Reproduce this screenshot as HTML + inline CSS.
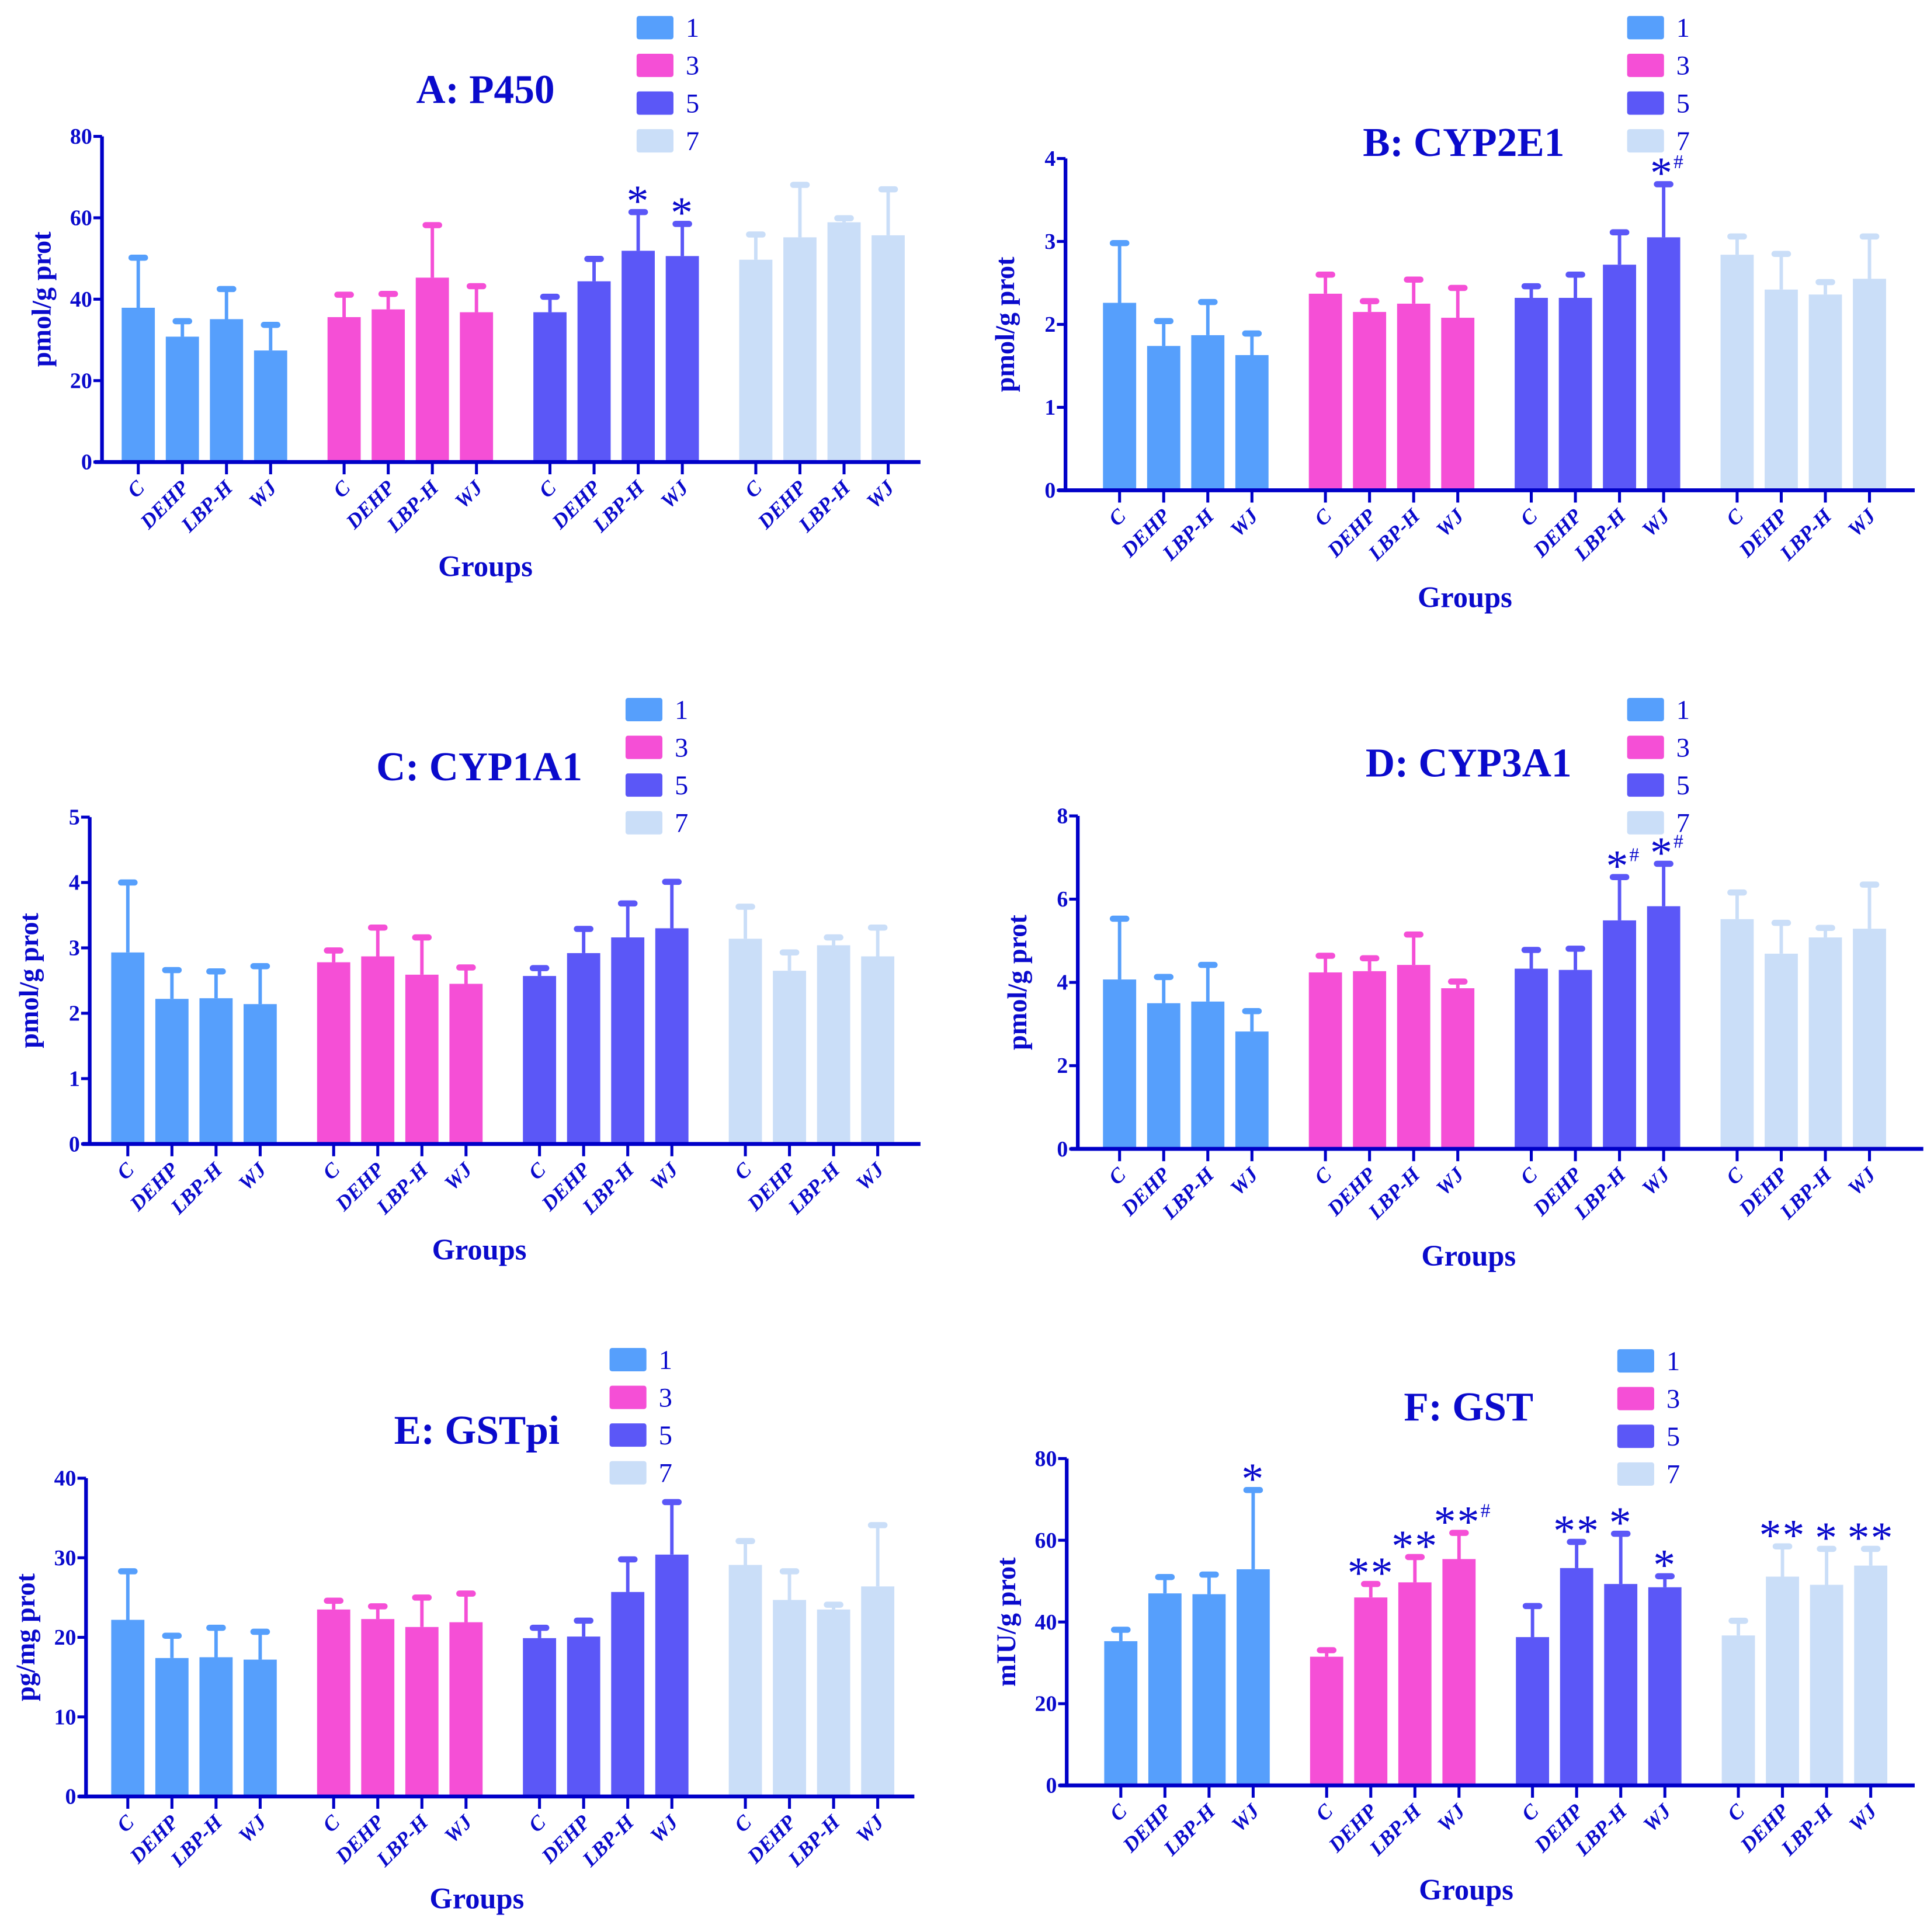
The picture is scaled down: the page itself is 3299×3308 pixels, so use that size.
<!DOCTYPE html>
<html><head><meta charset="utf-8"><style>
html,body{margin:0;padding:0;background:#fff;}
svg{display:block;}
text{font-family:"Liberation Serif",serif;fill:#0a0acc;}
</style></head><body>
<svg id="fig" width="3299" height="3308" viewBox="0 0 1568 1572.3" preserveAspectRatio="none" xmlns="http://www.w3.org/2000/svg"></svg>
<script>
const categories = ["C","DEHP","LBP-H","WJ"];
const seriesNames = ["1","3","5","7"];
const colors = ["#569ffc","#f54fd6","#5b57f7","#cadef8"];

const aMeans = [[37.9,30.8,35.1,27.4],[35.6,37.5,45.3,36.8],[36.8,44.4,51.9,50.6],[49.7,55.2,58.9,55.7]];
const aErr   = [[50.2,34.6,42.5,33.7],[41.1,41.3,58.2,43.2],[40.6,49.9,61.4,58.5],[55.9,68.1,59.9,67.0]];
const aMarks = [["","","",""],["","","",""],["","","*","*"],["","","",""]];
const aTicks = [0,20,40,60,80];

const bMeans = [[2.26,1.74,1.87,1.63],[2.37,2.15,2.25,2.08],[2.32,2.32,2.72,3.05],[2.84,2.42,2.36,2.55]];
const bErr   = [[2.98,2.04,2.27,1.89],[2.60,2.28,2.54,2.44],[2.46,2.60,3.11,3.69],[3.06,2.85,2.51,3.06]];
const bMarks = [["","","",""],["","","",""],["","","","*#"],["","","",""]];
const bTicks = [0,1,2,3,4];

const cMeans = [[2.93,2.22,2.23,2.14],[2.78,2.87,2.59,2.45],[2.57,2.92,3.16,3.30],[3.14,2.65,3.04,2.87]];
const cErr   = [[4.00,2.66,2.64,2.72],[2.96,3.31,3.16,2.70],[2.69,3.29,3.68,4.01],[3.63,2.93,3.16,3.31]];
const cMarks = [["","","",""],["","","",""],["","","",""],["","","",""]];
const cTicks = [0,1,2,3,4,5];

const dMeans = [[4.07,3.50,3.54,2.82],[4.24,4.27,4.42,3.86],[4.33,4.30,5.49,5.83],[5.52,4.69,5.08,5.29]];
const dErr   = [[5.53,4.13,4.42,3.31],[4.64,4.58,5.15,4.02],[4.78,4.81,6.53,6.85],[6.16,5.43,5.31,6.35]];
const dMarks = [["","","",""],["","","",""],["","","*#","*#"],["","","",""]];
const dTicks = [0,2,4,6,8];

const eMeans = [[22.2,17.4,17.5,17.2],[23.5,22.3,21.3,21.9],[19.9,20.1,25.7,30.4],[29.1,24.7,23.5,26.4]];
const eErr   = [[28.3,20.2,21.2,20.7],[24.6,23.9,25.0,25.5],[21.2,22.1,29.8,37.0],[32.1,28.3,24.1,34.1]];
const eMarks = [["","","",""],["","","",""],["","","",""],["","","",""]];
const eTicks = [0,10,20,30,40];

const fMeans = [[35.3,47.0,46.8,52.9],[31.5,46.0,49.7,55.4],[36.3,53.2,49.3,48.5],[36.7,51.1,49.1,53.8]];
const fErr   = [[38.1,51.0,51.6,72.3],[33.1,49.3,55.9,61.8],[43.9,59.6,61.6,51.2],[40.3,58.5,57.9,57.9]];
const fMarks = [["","","","*"],["","**","**","**#"],["","**","*","*"],["","**","*","**"]];
const fTicks = [0,20,40,60,80];

const NS="http://www.w3.org/2000/svg";
const svg=document.getElementById('fig');
function mk(tag,attrs,parent,txt){const e=document.createElementNS(NS,tag);for(const k in attrs)e.setAttribute(k,attrs[k]);if(txt!==undefined)e.textContent=txt;(parent||svg).appendChild(e);return e;}

function panel(o){
  const g=mk('g',{});
  
  
  const ymax=o.ticks[o.ticks.length-1];
  const Y=v=>o.zero-(v/ymax)*(o.zero-o.top);
  const X=(s,i)=>o.x0+s*167.5+i*35.9;
  const t=mk('text',{x:o.tx,y:o.ty,'text-anchor':'middle','font-size':33,'font-weight':'bold'},g,o.title);
  
  
  for(let s=0;s<4;s++){
    const ly=o.ly+s*30.7;
    const r=mk('rect',{x:o.lx,y:ly-9,width:30,height:19,rx:2,fill:colors[s]},g);
    
    
    const lt=mk('text',{x:o.lx+40,y:ly+8,'font-size':22},g,seriesNames[s]);
    
    
  }
  for(let s=0;s<4;s++)for(let i=0;i<4;i++){
    const cx=X(s,i),m=o.means[s][i],e=o.err[s][i];
    const ey=Y(e);
    const el=mk('line',{x1:cx,x2:cx,y1:Y(m),y2:ey,stroke:colors[s],'stroke-width':2.8},g);
    
    
    const cap=mk('line',{x1:cx-5.5,x2:cx+5.5,y1:ey,y2:ey,stroke:colors[s],'stroke-width':5,'stroke-linecap':'round'},g);
    
    
    const b=mk('rect',{x:cx-13.5,y:Y(m),width:27,height:o.zero-Y(m),fill:colors[s]},g);
    
    
    const mark=o.marks[s][i];
    if(mark){
      const stars=mark.replace('#','');
      const mt=mk('text',{x:cx+(mark.indexOf('#')>=0?3:0),y:ey+3,'text-anchor':'middle','font-size':36,'letter-spacing':'1'},g);
      
      
      mk('tspan',{},mt,stars);
      if(mark.indexOf('#')>=0){mk('tspan',{'font-size':16,dy:-16},mt,'#');}
    }
    const cl=mk('text',{x:0,y:0,'text-anchor':'end','font-size':17,'font-weight':'bold','font-style':'italic',transform:`translate(${cx+6},${o.zero+22}) rotate(-45)`},g,categories[i]);
    
    
    const tk=mk('line',{x1:cx,x2:cx,y1:o.zero,y2:o.zero+10,stroke:'#0000c8','stroke-width':2.4},g);
    
    
  }
  const ya=mk('line',{x1:o.ax,x2:o.ax,y1:o.top,y2:o.zero+1.5,stroke:'#0000c8','stroke-width':3},g);
  
  
  const xa=mk('line',{x1:o.ax-6,x2:o.aend,y1:o.zero,y2:o.zero,stroke:'#0000c8','stroke-width':3.2},g);
  
  
  for(const v of o.ticks){
    const yy=Y(v);
    const tl=mk('line',{x1:o.ax-7,x2:o.ax,y1:yy,y2:yy,stroke:'#0000c8','stroke-width':2.4},g);
    
    
    const tt=mk('text',{x:o.ax-8,y:yy+6,'text-anchor':'end','font-size':18,'font-weight':'bold'},g,String(v));
    
    
  }
  const yl=mk('text',{x:0,y:0,'text-anchor':'middle','font-size':22,'font-weight':'bold',transform:`translate(${o.ax-42},${(o.top+o.zero)/2}) rotate(-90)`},g,o.ylabel);
  
  
  const xl=mk('text',{x:o.gx,y:o.gy,'text-anchor':'middle','font-size':24,'font-weight':'bold'},g,'Groups');
  
  
}

panel({id:'a',title:'A: P450',means:aMeans,err:aErr,marks:aMarks,ticks:aTicks,ylabel:'pmol/g prot',ax:83,top:111,zero:376,aend:749,x0:112.5,tx:395,ty:84,lx:518,ly:22,gx:395,gy:469});
panel({id:'b',title:'B: CYP2E1',means:bMeans,err:bErr,marks:bMarks,ticks:bTicks,ylabel:'pmol/g prot',ax:867,top:129,zero:399,aend:1558,x0:911,tx:1191,ty:127,lx:1324,ly:22,gx:1192,gy:494});
panel({id:'c',title:'C: CYP1A1',means:cMeans,err:cErr,marks:cMarks,ticks:cTicks,ylabel:'pmol/g prot',ax:73,top:665,zero:931,aend:749,x0:104,tx:390,ty:635,lx:509,ly:577,gx:390,gy:1025});
panel({id:'d',title:'D: CYP3A1',means:dMeans,err:dErr,marks:dMarks,ticks:dTicks,ylabel:'pmol/g prot',ax:877,top:664,zero:935,aend:1565,x0:911,tx:1195,ty:632,lx:1324,ly:577,gx:1195,gy:1030});
panel({id:'e',title:'E: GSTpi',means:eMeans,err:eErr,marks:eMarks,ticks:eTicks,ylabel:'pg/mg prot',ax:70,top:1203,zero:1462,aend:744,x0:104,tx:388,ty:1175,lx:496,ly:1106,gx:388,gy:1553});
panel({id:'f',title:'F: GST',means:fMeans,err:fErr,marks:fMarks,ticks:fTicks,ylabel:'mIU/g prot',ax:868,top:1187,zero:1453,aend:1558,x0:912,tx:1195,ty:1156,lx:1316,ly:1107,gx:1193,gy:1546});
</script>
</body></html>
